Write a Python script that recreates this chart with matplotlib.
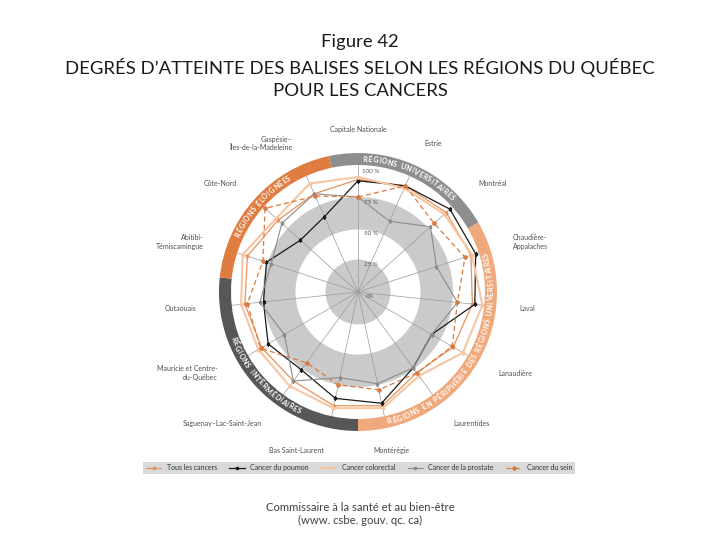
import numpy as np
import matplotlib
matplotlib.use("Agg")
import matplotlib.pyplot as plt
from matplotlib.textpath import TextToPath
from matplotlib.font_manager import FontProperties

plt.rcParams["font.family"] = ["Lato", "DejaVu Sans"]

# Regions, clockwise from the top
REGIONS = [
    "Capitale Nationale", "Estrie", "Montréal", "Chaudière-\nAppalaches", "Laval",
    "Lanaudière", "Laurentides", "Montérégie", "Bas Saint-Laurent",
    "Saguenay–Lac-Saint-Jean", "Mauricie et Centre-\ndu-Québec", "Outaouais",
    "Abitibi-\nTémiscamingue", "Côte-Nord", "Gaspésie–\nÎles-de-la-Madeleine",
]

# Degree of attainment (%) per region
TOUS       = [90, 93, 95, 95, 92, 88, 80, 93, 93, 88, 89, 91, 93, 86, 86]
POUMON     = [89, 93, 99, 99, 94, 68, 75, 91, 87, 77, 83, 76, 77, 62, 66]
COLORECTAL = [92, 91, 93, 96, 100, 97, 83, 95, 95, 93, 92, 94, 97, 88, 95]
PROSTATE   = [76, 62, 78, 66, 80, 68, 75, 75, 70, 88, 68, 79, 73, 82, 86]
SEIN       = [76, 93, 82, 90, 80, 87, 80, 80, 76, 70, 90, 89, 80, 100, 84]

# Region groups: label, number of regions, ring colour, text on top half
GROUPS = [
    ("RÉGIONS UNIVERSITAIRES", 3, "#8e8e8e", True),
    ("RÉGIONS EN PÉRIPHÉRIE DES RÉGIONS UNIVERSITAIRES", 5, "#f0a97c", False),
    ("RÉGIONS INTERMÉDIAIRES", 4, "#575757", False),
    ("RÉGIONS ÉLOIGNÉES", 3, "#e07c40", True),
]

SCALE_TICKS = [0, 25, 50, 75, 100]
SCALE_LABELS = ["0%", "25 %", "50 %", "75 %", "100 %"]

PX_PER_UNIT = 1.25  # axes radius 162.5 px for 130 units


def curved_text(ax, text, mid, r, fs, top):
    prop = FontProperties(family="Lato", weight="bold", size=fs)
    ttp = TextToPath()
    adv = []
    for ch in text:
        if ch == " ":
            w = 0.32 * fs
        else:
            w = ttp.get_text_width_height_descent(ch, prop, ismath=False)[0]
        adv.append((w + 0.07 * fs) * 100 / 72)
    ang = np.array(adv) / (r * PX_PER_UNIT)
    total = ang.sum()
    cum = np.cumsum(ang) - ang / 2
    for ch, c in zip(text, cum):
        if top:
            t = mid - total / 2 + c
            rot = -np.degrees(t)
        else:
            t = mid + total / 2 - c
            rot = 180 - np.degrees(t)
        ax.text(t, r, ch, rotation=rot, rotation_mode="anchor", ha="center",
                va="center", fontsize=fs, fontweight="bold", color="white",
                family="Lato", zorder=6)


def main():
    n = len(REGIONS)
    step = 2 * np.pi / n
    theta = np.arange(n) * step

    fig = plt.figure(figsize=(7.2, 5.4), dpi=100)
    ax = fig.add_axes([0.2715, 0.1583, 0.4514, 0.6019], projection="polar")
    ax.set_theta_zero_location("N")
    ax.set_theta_direction(-1)
    ax.set_ylim(0, 130)
    ax.axis("off")

    # grey bands
    band = "#cacaca"
    ax.bar(0, 26, width=2 * np.pi, bottom=0, color=band, edgecolor="none", zorder=0)
    ax.bar(0, 26, width=2 * np.pi, bottom=50, color=band, edgecolor="none", zorder=0)

    # spokes
    for t in theta:
        ax.plot([t, t], [0, 101.6], color="#9a9a9a", lw=0.5, zorder=1)

    # outer ring by region group
    start = 0
    for label, count, color, top in GROUPS:
        a0 = start * step - step / 2
        span = count * step
        ax.bar(a0 + span / 2, 9.6, width=span, bottom=101.6, color=color,
               edgecolor="none", zorder=5)
        curved_text(ax, label, a0 + span / 2, 106.4, 5.2, top)
        start += count

    # series
    closed = np.append(theta, theta[0])
    styles = [
        ("Tous les cancers", TOUS, dict(color="#e8925c", lw=0.9, marker="s", ms=2.0)),
        ("Cancer du poumon", POUMON, dict(color="#1a1a1a", lw=0.9, marker="s", ms=2.0)),
        ("Cancer colorectal", COLORECTAL, dict(color="#f6c6a3", lw=1.5, marker="s", ms=1.8)),
        ("Cancer de la prostate", PROSTATE, dict(color="#8c8c8c", lw=0.8, marker="s", ms=1.8)),
        ("Cancer du sein", SEIN, dict(color="#d97a42", lw=0.9, ls=(0, (4, 2.5)), marker="D", ms=2.0)),
    ]
    handles = []
    for label, vals, kw in styles:
        h, = ax.plot(closed, np.append(vals, vals[0]), label=label, zorder=3, **kw)
        handles.append(h)

    # scale labels
    for v, lab in zip(SCALE_TICKS, SCALE_LABELS):
        ax.annotate(lab, xy=(0, v), xytext=(9, -3), textcoords="offset points",
                    fontsize=4.5, ha="center", va="center", color="#555555", zorder=4)

    # region labels
    for t, name in zip(theta, REGIONS):
        s = np.sin(t)
        ha = "left" if s > 0.3 else ("right" if s < -0.1 else "center")
        ax.text(t, 130, name, ha=ha, va="center", fontsize=5, color="#505050",
                linespacing=1.3)

    fig.legend(handles, [h.get_label() for h in handles], loc="center",
               bbox_to_anchor=(0.199, 0.1167, 0.6, 0.0333), mode="expand", ncol=5,
               fontsize=5, frameon=True, facecolor="#d9d9d9", edgecolor="none",
               fancybox=False, framealpha=1, handlelength=2.2, borderaxespad=0,
               labelcolor="#333333")

    fig.text(0.5, 1 - 34 / 540,
             "Figure 42\nDEGRÉS D’ATTEINTE DES BALISES SELON LES RÉGIONS DU QUÉBEC\nPOUR LES CANCERS",
             ha="center", va="top", fontsize=13.3, linespacing=1.48, color="#1a1a1a")
    fig.text(0.5, 1 - 502 / 540,
             "Commissaire à la santé et au bien-être\n(www. csbe. gouv. qc. ca)",
             ha="center", va="top", fontsize=8.1, color="#404040", linespacing=1.2)

    fig.savefig("out.png", dpi=100)


if __name__ == "__main__":
    main()
